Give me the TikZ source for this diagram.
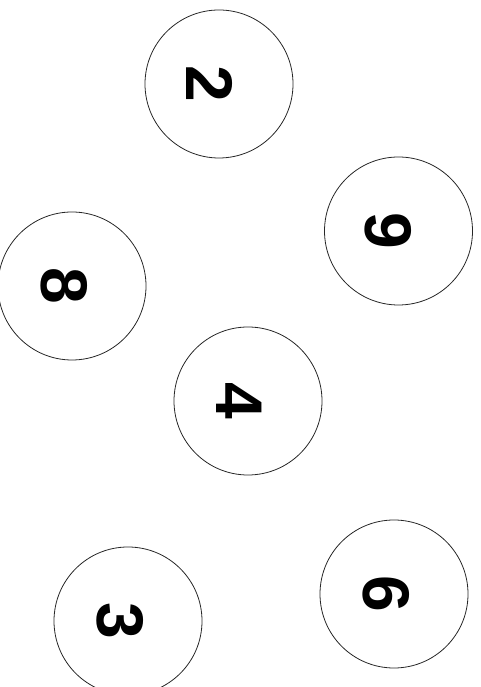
\documentclass[tikz,border=0pt]{standalone}
\usepackage{fontspec}
\setmainfont{Liberation Sans}
\begin{document}
\begin{tikzpicture}[x=1pt,y=1pt,
  ball/.style={circle,draw=black!85,line width=0.8pt,minimum size=148pt,inner sep=0pt},
  digit/.style={rotate=-90,inner sep=0pt,font=\fontsize{66}{66}\selectfont\bfseries}]
\useasboundingbox (0,0) rectangle (481,687);
\node[ball] (c2) at (219,603) {};
\node[ball] (c9) at (398.5,456) {};
\node[ball] (c8) at (72,401) {};
\node[ball] (c4) at (248,286) {};
\node[ball] (c3) at (128,66) {};
\node[ball] (c6) at (394,93) {};
\node[digit] (t2) at ([xshift=-9pt]c2.center) {2};
\node[digit] (t9) at ([xshift=-10pt]c9.center) {9};
\node[digit] (t8) at ([xshift=-8pt]c8.center) {8};
\node[digit] (t4) at ([xshift=-9pt]c4.center) {4};
\node[digit] (t3) at ([xshift=-8pt]c3.center) {3};
\node[digit] (t6) at ([xshift=-8pt]c6.center) {6};
\end{tikzpicture}
\end{document}
